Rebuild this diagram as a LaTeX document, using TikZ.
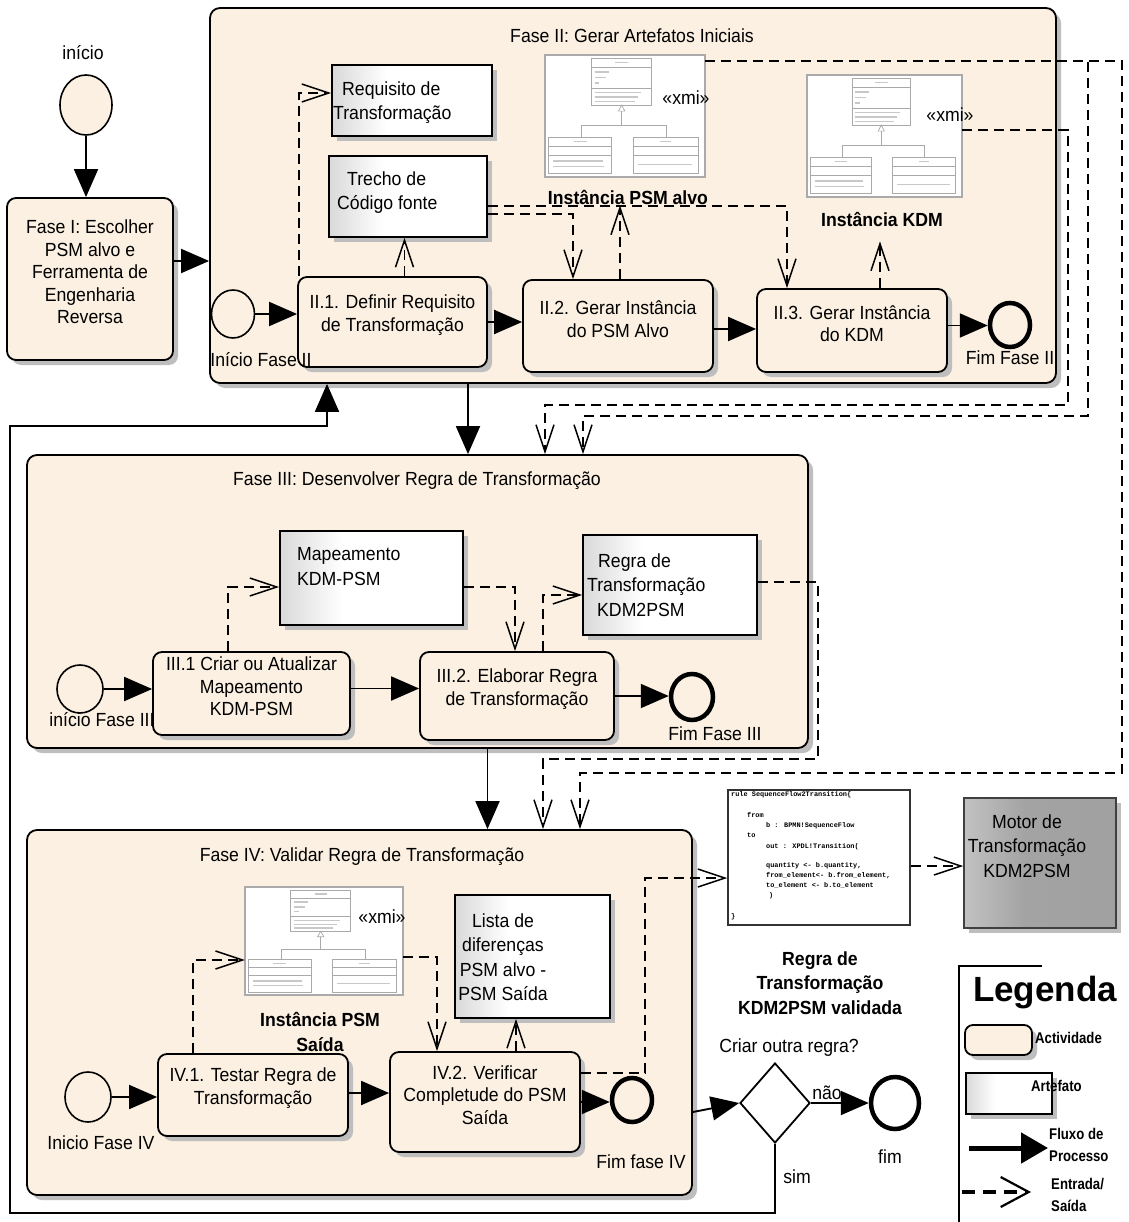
\documentclass[tikz,border=0pt]{standalone}
\usepackage{fontspec}
\setmainfont{Liberation Sans}[FakeStretch=0.93]
\newfontfamily\widefont{Liberation Sans}
\newfontfamily\narrowfont{Liberation Sans}[FakeStretch=0.85]
\newfontfamily\codefont{Liberation Mono}
\usetikzlibrary{arrows.meta,shapes.geometric,shadows,fit}

\definecolor{actfill}{RGB}{251,240,225}
\definecolor{shadowgray}{RGB}{190,190,190}
\definecolor{umlgray}{RGB}{170,170,170}
\definecolor{umltext}{RGB}{200,200,200}

% artefact fill: grey at the left edge fading to white
\pgfdeclarehorizontalshading{artshade}{100bp}{color(0bp)=(black!16); color(25bp)=(black!15); color(42bp)=(white); color(100bp)=(white)}
% transformation engine fill
\pgfdeclarehorizontalshading{motorshade}{100bp}{color(0bp)=(black!22); color(25bp)=(black!24); color(45bp)=(black!36); color(100bp)=(black!38)}

\newcommand\mainsz{\fontsize{19}{22.5}\selectfont}
\newcommand\artsz{\fontsize{19}{24.5}\selectfont}
\newcommand\boldsz{\bfseries\fontsize{19}{24.5}\selectfont}
\newcommand\legsz{\narrowfont\bfseries\fontsize{15.5}{22}\selectfont}

% miniature class diagram placed in the box with corner (#1,#2) and size #3 x #4
\newcommand\umlsketch[4]{%
  \begin{scope}[shift={(#1,#2)},x=#3pt,y=-#4pt]
    \draw[umlgray,line width=1.4pt,fill=white] (0,0) rectangle (1,1);
    \begin{scope}[umlgray,line width=0.7pt]
      \draw (0.29,0.027) rectangle (0.667,0.41);
      \draw (0.29,0.101) -- (0.667,0.101) (0.29,0.274) -- (0.667,0.274);
      \draw (0.479,0.41) -- (0.459,0.46) -- (0.499,0.46) -- cycle;
      \draw (0.479,0.46) -- (0.479,0.575) (0.229,0.671) -- (0.229,0.575) -- (0.76,0.575) -- (0.76,0.671);
      \draw (0.021,0.671) rectangle (0.417,0.973);
      \draw (0.021,0.748) -- (0.417,0.748) (0.021,0.822) -- (0.417,0.822);
      \draw (0.552,0.671) rectangle (0.958,0.973);
      \draw (0.552,0.748) -- (0.958,0.748) (0.552,0.822) -- (0.958,0.822);
    \end{scope}
    \begin{scope}[umltext,line width=1.3pt]
      \draw (0.44,0.064) -- (0.52,0.064);
      \draw (0.31,0.14) -- (0.40,0.14) (0.31,0.185) -- (0.38,0.185) (0.31,0.23) -- (0.34,0.23);
      \draw (0.31,0.31) -- (0.60,0.31) (0.31,0.345) -- (0.58,0.345) (0.31,0.38) -- (0.56,0.38);
      \draw (0.18,0.71) -- (0.26,0.71) (0.72,0.71) -- (0.79,0.71);
      \draw (0.05,0.87) -- (0.36,0.87) (0.05,0.915) -- (0.37,0.915);
      \draw (0.58,0.895) -- (0.92,0.895);
    \end{scope}
  \end{scope}}

\begin{document}
\begin{tikzpicture}[x=1pt,y=-1pt,
  shadowed/.style={general shadow={fill=shadowgray,shadow xshift=5pt,shadow yshift=-5pt}},
  phasebox/.style={draw,line width=1.8pt,fill=actfill,rounded corners=10pt,shadowed,inner sep=0pt},
  actbox/.style={draw,line width=1.8pt,fill=actfill,rounded corners=9pt,shadowed,inner sep=0pt,align=center,font=\mainsz},
  artbox/.style={draw,line width=1.6pt,shading=artshade,shadowed,inner sep=0pt},
  arttext/.style={inner sep=0pt,align=left,font=\artsz,anchor=west},
  lbl/.style={inner sep=0pt,font=\mainsz},
  blbl/.style={inner sep=0pt,font=\boldsz,align=center},
  legtext/.style={inner sep=0pt,font=\legsz,align=left,anchor=west},
  startev/.style={ellipse,draw,line width=1.6pt,fill=actfill,inner sep=0pt},
  endev/.style={ellipse,draw,line width=4.5pt,fill=actfill,inner sep=0pt},
  flow/.style={line width=1.9pt,-{Triangle[length=28pt,width=24pt]}},
  io/.style={line width=1.5pt,dash pattern=on 10pt off 6pt,-{Straight Barb[length=27pt,width=18pt,line width=1.5pt]}}]

\useasboundingbox[fill=white] (0,0) rectangle (1128,1222);

% ---------- phase containers ----------
\node[phasebox,fit={(210,8)(1056,383)}] (f2) {};
\node[phasebox,fit={(27,455)(808,748)}] (f3) {};
\node[phasebox,fit={(27,830)(692,1195)}] (f4) {};
\node[lbl] (t2) at (632,36) {Fase II: Gerar Artefatos Iniciais};
\node[lbl] (t3) at (417,481) {Fase III: Desenvolver Regra de Transformação};
\node[lbl] (t4) at (362,857) {Fase IV: Validar Regra de Transformação};

% ---------- phase I ----------
\node[startev,minimum width=52pt,minimum height=60pt] (start) at (86,105) {};
\node[actbox,fit={(7,198)(173,360)}] (f1) {Fase I: Escolher\\PSM alvo e\\Ferramenta de\\Engenharia\\Reversa};

% ---------- phase II ----------
\node[startev,minimum width=43pt,minimum height=48pt] (s2) at (233,314) {};
\node[actbox,fit={(298,277)(487,367)}] (ii1) {II.1. Definir Requisito\\de Transformação};
\node[actbox,fit={(523,280)(713,372)}] (ii2) {II.2. Gerar Instância\\do PSM Alvo};
\node[actbox,fit={(757,289)(947,372)}] (ii3) {II.3. Gerar Instância\\do KDM};
\node[endev,minimum width=40pt,minimum height=44pt] (e2) at (1010,325) {};

\node[artbox,fit={(332,65)(492,136)}] (req) {};
\node[arttext] (reqtxt) at (333,102.5) {\hspace*{9pt}Requisito de\\Transformação};
\node[artbox,fit={(329,156)(487,237)}] (trecho) {};
\node[arttext] (trechotxt) at (337,192.5) {\hspace*{10pt}Trecho de\\Código fonte};

\umlsketch{545}{55}{160}{122}
\node[fit={(545,55)(705,177)},inner sep=0pt] (psmimg) {};
\node[lbl] (xmi1) at (686,98) {«xmi»};
\umlsketch{807}{75}{155}{122}
\node[fit={(807,75)(962,197)},inner sep=0pt] (kdmimg) {};
\node[lbl] (xmi2) at (950,115) {«xmi»};

% ---------- phase III ----------
\node[startev,minimum width=46pt,minimum height=48pt] (s3) at (80,689) {};
\node[actbox,fit={(153,652)(350,735)}] (iii1) {III.1 Criar ou Atualizar\\Mapeamento\\KDM-PSM};
\node[actbox,fit={(420,652)(614,740)}] (iii2) {III.2. Elaborar Regra\\de Transformação};
\node[endev,minimum width=42pt,minimum height=46pt] (e3) at (692,697) {};
\node[artbox,fit={(280,531)(463,625)}] (map) {};
\node[arttext] (maptxt) at (297,566.5) {Mapeamento\\KDM-PSM};
\node[artbox,fit={(583,535)(757,635)}] (regra) {};
\node[arttext] (regratxt) at (587,585) {\hspace*{11pt}Regra de\\Transformação\\\hspace*{10pt}KDM2PSM};

% ---------- phase IV ----------
\node[startev,minimum width=46pt,minimum height=50pt] (s4) at (88,1097) {};
\node[actbox,fit={(158,1054)(348,1136)}] (iv1) {IV.1. Testar Regra de\\Transformação};
\node[actbox,fit={(390,1052)(580,1152)}] (iv2) {IV.2. Verificar\\Completude do PSM\\Saída};
\node[endev,minimum width=40pt,minimum height=44pt] (e4) at (632,1100) {};

\umlsketch{245}{887}{158}{108}
\node[fit={(245,887)(403,995)},inner sep=0pt] (psmout) {};
\node[lbl] (xmi3) at (382,917) {«xmi»};
\node[artbox,fit={(455,895)(610,1018)}] (lista) {};
\node[inner sep=0pt,align=center,font=\artsz] (listatxt) at (503,957) {Lista de\\diferenças\\PSM alvo -\\PSM Saída};

% ---------- outside the phases ----------
\node[draw=black!80,line width=1.5pt,fill=white,fit={(728,790)(910,925)},inner sep=0pt] (code) {};
\node[anchor=north west,inner sep=0pt,align=left,font=\codefont\bfseries\fontsize{6.9}{10.2}\selectfont] (codetxt) at (731,791)
  {rule SequenceFlow2Transition\{\\[11pt]
   \hspace*{16pt}from\\
   \hspace*{35pt}b : BPMN!SequenceFlow\\
   \hspace*{16pt}to\\
   \hspace*{35pt}out : XPDL!Transition(\\[9pt]
   \hspace*{35pt}quantity <- b.quantity,\\
   \hspace*{35pt}from\_element<- b.from\_element,\\
   \hspace*{35pt}to\_element <- b.to\_element\\
   \hspace*{38pt})\\[10pt]
   \}};
\node[draw=black!75,line width=1.5pt,shading=motorshade,shadowed,fit={(964,798)(1116,928)},inner sep=0pt] (motor) {};
\node[inner sep=0pt,align=center,font=\artsz] (motortxt) at (1027,846) {Motor de\\Transformação\\KDM2PSM};

\node[diamond,draw,line width=1.8pt,fill=white,minimum width=70pt,minimum height=80pt,inner sep=0pt] (dec) at (775,1103) {};
\node[endev,fill=white,minimum width=48pt,minimum height=52pt] (fimev) at (895,1103) {};

% ---------- event and decision labels ----------
\node[lbl] (lstart) at (83,53) {início};
\node[lbl] (ls2) at (261,360) {Início Fase II};
\node[lbl] (le2) at (1010,358) {Fim Fase II};
\node[lbl] (ls3) at (102,720) {início Fase III};
\node[lbl] (le3) at (715,734) {Fim Fase III};
\node[lbl] (ls4) at (101,1143) {Inicio Fase IV};
\node[lbl] (le4) at (641,1162) {Fim fase IV};
\node[lbl] (lq) at (789,1048) {Criar outra regra?};
\node[lbl] (lnao) at (827,1093) {não};
\node[lbl] (lsim) at (797,1177) {sim};
\node[lbl] (lfim) at (890,1157) {fim};

% bold artefact captions
\node[blbl] (psmlbl) at (628,198) {Instância PSM alvo};
\node[blbl] (kdmlbl) at (882,220) {Instância KDM};
\node[blbl] (psmoutlbl) at (320,1032) {Instância PSM\\Saída};
\node[blbl] (validlbl) at (820,983) {Regra de\\Transformação\\KDM2PSM validada};

% ---------- process flow ----------
\draw[flow] (start.south) -- (start.south |- f1.north);
\draw[flow] ([yshift=18pt]f1.east) -- ([yshift=18pt]f1.east -| f2.west);
\draw[flow] (s2.east) -- (s2.east -| ii1.west);
\draw[flow] (ii1.east) -- (ii1.east -| ii2.west);
\draw[flow] ([yshift=-3pt]ii2.east) -- ([yshift=-3pt]ii2.east -| ii3.west);
\draw[flow] ([yshift=5pt]ii3.east) -- ([yshift=5pt]ii3.east -| e2.west);
\draw[flow] ([xshift=-165pt]f2.south) -- ([xshift=-165pt]f2.south |- f3.north);
\draw[flow] (s3.east) -- (s3.east -| iii1.west);
\draw[flow] ([yshift=5pt]iii1.east) -- ([yshift=5pt]iii1.east -| iii2.west);
\draw[flow] (iii2.east) -- (iii2.east -| e3.west);
\draw[flow] ([xshift=70pt]f3.south) -- ([xshift=70pt]f3.south |- f4.north);
\draw[flow] (s4.east) -- (s4.east -| iv1.west);
\draw[flow] ([yshift=2pt]iv1.east) -- ([yshift=2pt]iv1.east -| iv2.west);
\draw[flow] (iv2.east) -- (iv2.east -| e4.west);
\draw[flow] ([yshift=-99.5pt]f4.east) -- (dec.west);
\draw[flow] (dec.east) -- (fimev.west);
\coordinate (loopA) at (10,1213);
\coordinate (loopB) at (327,426);
\draw[flow] (dec.south) |- (loopA) |- (loopB) -- (loopB |- f2.south);

% ---------- inputs and outputs ----------
\draw[io] ([xshift=2pt]ii1.north west) |- ([yshift=7.5pt]req.west);
\draw[io] ([xshift=12pt]ii1.north) -- ([xshift=12pt]ii1.north |- trecho.south);
\draw[io] ([yshift=-17.5pt]trecho.east) -| ([xshift=-45pt]ii2.north);
\draw[io] ([yshift=-9.5pt]trecho.east) -| ([xshift=-65pt]ii3.north);
\draw[io] ([xshift=2pt]ii2.north) -- ([xshift=2pt]ii2.north |- psmlbl.south);
\draw[io] ([xshift=28pt]ii3.north) -- ([xshift=28pt,yshift=-14pt]ii3.north |- kdmlbl.south);

\coordinate (bendA) at (1088,416);
\coordinate (bendB) at (1068,405);
\coordinate (bendC) at (1122,773);
\coordinate (bendD) at (818,759);
\coordinate (bendE) at (645,878);
\draw[io] ([yshift=-6pt]psmimg.north east) -| (bendA) -| ([xshift=165.5pt]f3.north);
\draw[io] ([yshift=-55pt]kdmimg.north east) -| (bendB) -| ([xshift=127.5pt]f3.north);
\draw[io] ([yshift=-6pt]psmimg.north east) -| (bendC) -| ([xshift=220.5pt]f4.north);
\draw[io] ([yshift=3pt]regra.east) -| (bendD) -| ([xshift=183.5pt]f4.north);

\draw[io] ([xshift=-23.5pt]iii1.north) |- ([yshift=-9pt]map.west);
\draw[io] ([yshift=-9pt]map.east) -| ([xshift=-2pt]iii2.north);
\draw[io] ([xshift=26pt]iii2.north) |- ([yshift=-10pt]regra.west);

\draw[io] ([xshift=-60pt]iv1.north) |- ([yshift=-19pt]psmout.west);
\draw[io] ([yshift=-16pt]psmout.east) -| ([xshift=-48pt]iv2.north);
\draw[io] ([xshift=31pt]iv2.north) -- ([xshift=31pt]iv2.north |- lista.south);
\draw[io] ([yshift=29pt]iv2.east) -| (bendE) -- (bendE -| code.west);
\draw[io] ([yshift=-8.5pt]code.east) -- ([yshift=-8.5pt]code.east -| motor.west);

% ---------- legend ----------
\draw[line width=1.6pt] (1042,966) -- (959,966) -- (959,1222);
\node[inner sep=0pt,font=\widefont\bfseries\fontsize{35}{40}\selectfont] (legtitle) at (1045,993) {Legenda};
\node[actbox,rounded corners=8pt,fit={(965,1025)(1032,1055)}] (legact) {};
\node[legtext] (legacttxt) at (1035,1038) {Actividade};
\node[artbox,fit={(966,1073)(1052,1114)}] (legart) {};
\node[legtext] (legarttxt) at (1031,1086) {Artefato};
\coordinate (legA) at (969,1148);
\coordinate (legB) at (1048,1148);
\draw[line width=5pt,-{Triangle[length=27pt,width=30pt]}] (legA) -- (legB);
\node[legtext] (legflow) at (1049,1145) {Fluxo de\\Processo};
\coordinate (legC) at (962,1192);
\coordinate (legD) at (1031,1192);
\draw[line width=4.5pt,dash pattern=on 13pt off 8pt,-{Straight Barb[length=28pt,width=30pt,line width=2.2pt]}] (legC) -- (legD);
\node[legtext] (legio) at (1051,1195) {Entrada/\\Saída};
\end{tikzpicture}
\end{document}
